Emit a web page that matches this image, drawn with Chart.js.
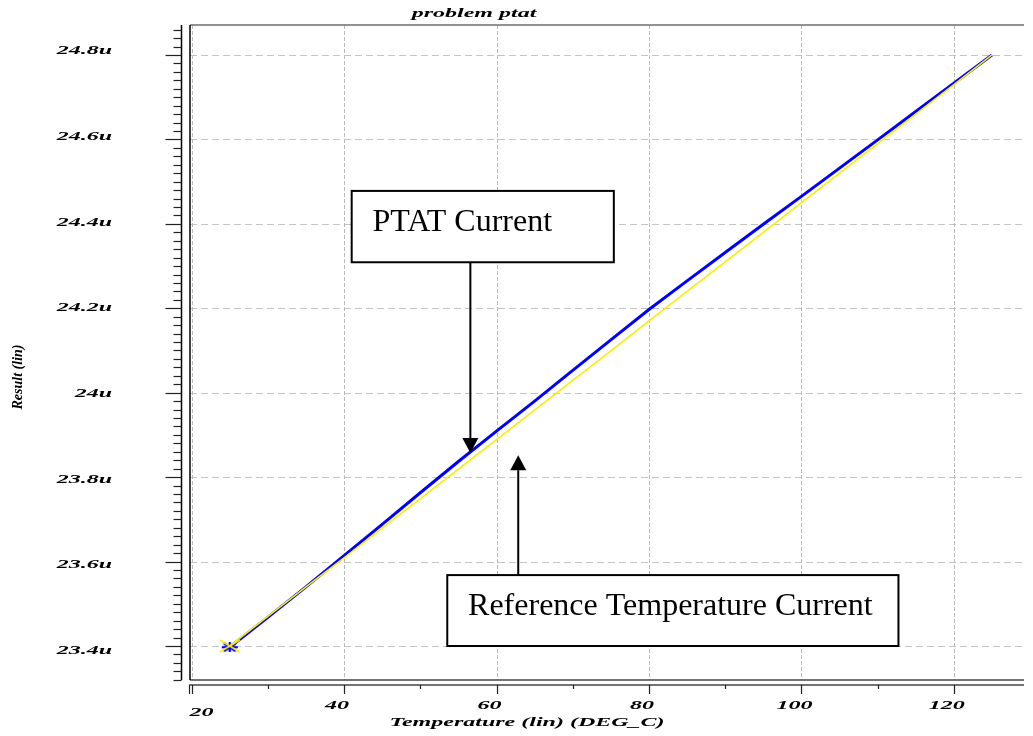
<!DOCTYPE html>
<html><head><meta charset="utf-8">
<script src="https://cdn.jsdelivr.net/npm/chart.js@4.4.1/dist/chart.umd.min.js"></script>
<style>html,body{margin:0;padding:0;background:#fff;overflow:hidden}#wrap{width:1033px;height:736px}</style>
</head><body><div id="wrap"><canvas id="c" width="1033" height="736"></canvas></div>
<script>
// ---- data (µA) ----
const temperatures = [25,30,35,40,45,50,55,60,65,70,75,80,85,90,95,100,105,110,115,120,125];
const ptatCurrent = [23.397,23.468,23.540,23.614,23.688,23.763,23.837,23.909,23.980,24.053,24.125,24.197,24.265,24.332,24.399,24.465,24.532,24.599,24.666,24.733,24.800];
const referenceCurrent = [23.400,23.470,23.540,23.609,23.679,23.749,23.819,23.889,23.959,24.029,24.099,24.170,24.240,24.310,24.380,24.450,24.520,24.590,24.660,24.730,24.800];
const xTickValues = [20,40,60,80,100,120];
const xTickLabels = ['20','40','60','80','100','120'];
const xMinorTickValues = [30,50,70,90,110];
const yTickValues = [23.4,23.6,23.8,24.0,24.2,24.4,24.6,24.8];
const yTickLabels = ['23.4u','23.6u','23.8u','24u','24.2u','24.4u','24.6u','24.8u'];
const xRange = [19.79,129.2];
const yRange = [23.3195,24.871];
const chartTitle = 'problem ptat';
const xAxisTitle = 'Temperature (lin) (DEG_C)';
const yAxisTitle = 'Result (lin)';
const annotationLabels = ['PTAT Current','Reference Temperature Current'];
const annotationBoxes = [[41.0,75.39,24.478,24.309],[53.54,112.73,23.568,23.400]];
const annotationTextAnchors = [[43.72,24.383],[56.27,23.473]];
const annotationArrows = [[56.57,24.309,23.857],[62.85,23.568,23.852]];

const SERIF = '"Liberation Serif","Times New Roman",serif';
function stretched(ctx, text, x, y, sx, align, font) {
  ctx.save(); ctx.font = font; ctx.translate(x, y); ctx.scale(sx, 1);
  ctx.textAlign = align; ctx.fillText(text, 0, 0); ctx.restore();
}

// marker glyphs (horizontally stretched like the original screenshot)
function makeMarker(w, h, color, lw, segs) {
  const cv = document.createElement('canvas'); cv.width = w; cv.height = h;
  const c = cv.getContext('2d'); c.strokeStyle = color; c.lineWidth = lw; c.lineCap = 'butt';
  segs.forEach(s => { c.beginPath(); c.moveTo(s[0], s[1]); c.lineTo(s[2], s[3]); c.stroke(); });
  return cv;
}
const starMarker = makeMarker(18, 10, '#0000ff', 2.2, [[1,5,17,5],[9,0,9,10],[3,1,15,9],[3,9,15,1]]);
const crossMarker = makeMarker(22, 14, '#f8f000', 1.6, [[1,1,21,13],[1,13,21,1]]);

const decorPlugin = {
  id: 'decor',
  beforeDraw(chart) {
    const ctx = chart.ctx; ctx.save(); ctx.fillStyle = '#fff';
    ctx.fillRect(0, 0, chart.width, chart.height); ctx.restore();
  },
  beforeDatasetsDraw(chart) {
    const {ctx, chartArea: a, scales: {x, y}} = chart;
    ctx.save();
    ctx.beginPath(); ctx.rect(a.left, a.top, a.right - a.left, a.bottom - a.top); ctx.clip();
    ctx.lineWidth = 1;
    ctx.strokeStyle = '#c4c4c4'; ctx.setLineDash([7, 4]);
    yTickValues.forEach(v => { const py = Math.round(y.getPixelForValue(v)) + 0.5;
      ctx.beginPath(); ctx.moveTo(a.left, py); ctx.lineTo(a.right, py); ctx.stroke(); });
    ctx.strokeStyle = '#b8b8b8'; ctx.setLineDash([4, 2]);
    xTickValues.forEach(v => { const px = Math.round(x.getPixelForValue(v)) + 0.5;
      ctx.beginPath(); ctx.moveTo(px, a.top); ctx.lineTo(px, a.bottom); ctx.stroke(); });
    ctx.restore();
  },
  afterDatasetsDraw(chart) {
    const {ctx, chartArea: a, scales: {x, y}} = chart;
    ctx.save();
    // annotations
    annotationBoxes.forEach((b, i) => {
      const l = x.getPixelForValue(b[0]), r = x.getPixelForValue(b[1]);
      const t = y.getPixelForValue(b[2]), bt = y.getPixelForValue(b[3]);
      ctx.fillStyle = '#fff'; ctx.fillRect(l, t, r - l, bt - t);
      ctx.strokeStyle = '#000'; ctx.lineWidth = 2; ctx.setLineDash([]);
      ctx.strokeRect(l, t, r - l, bt - t);
      ctx.fillStyle = '#000'; ctx.font = '32px ' + SERIF; ctx.textAlign = 'left'; ctx.textBaseline = 'alphabetic';
      ctx.fillText(annotationLabels[i], x.getPixelForValue(annotationTextAnchors[i][0]), y.getPixelForValue(annotationTextAnchors[i][1]));
    });
    annotationArrows.forEach(ar => {
      const px = x.getPixelForValue(ar[0]), from = y.getPixelForValue(ar[1]), tip = y.getPixelForValue(ar[2]);
      const dir = tip > from ? 1 : -1, hl = 15, hw = 8;
      ctx.strokeStyle = '#000'; ctx.lineWidth = 2;
      ctx.beginPath(); ctx.moveTo(px, from); ctx.lineTo(px, tip - dir * hl); ctx.stroke();
      ctx.fillStyle = '#000'; ctx.beginPath();
      ctx.moveTo(px, tip); ctx.lineTo(px - hw, tip - dir * hl); ctx.lineTo(px + hw, tip - dir * hl); ctx.closePath(); ctx.fill();
    });
    // plot frame
    ctx.lineWidth = 1.5;
    ctx.strokeStyle = '#6e6e6e';
    ctx.beginPath(); ctx.moveTo(a.left, a.top); ctx.lineTo(a.right, a.top); ctx.stroke();
    ctx.strokeStyle = '#444';
    ctx.beginPath(); ctx.moveTo(a.left, a.bottom); ctx.lineTo(a.right, a.bottom); ctx.stroke();
    ctx.strokeStyle = '#000';
    ctx.beginPath(); ctx.moveTo(a.left, a.top); ctx.lineTo(a.left, a.bottom); ctx.stroke();
    // y axis line + ticks
    const yAxisX = a.left - 8.5;
    ctx.beginPath(); ctx.moveTo(yAxisX, a.top); ctx.lineTo(yAxisX, a.bottom); ctx.stroke();
    ctx.lineWidth = 1.2; ctx.strokeStyle = '#222';
    for (let k = 0; ; k++) {
      const v = 23.32 + k * 0.02; if (v > yRange[1]) break;
      const py = Math.round(y.getPixelForValue(v)) + 0.5;
      const major = yTickValues.some(t => Math.abs(t - v) < 1e-6);
      ctx.beginPath(); ctx.moveTo(yAxisX - (major ? 16 : 8), py); ctx.lineTo(yAxisX, py); ctx.stroke();
    }
    // x axis line + ticks
    const xAxisY = a.bottom + 5;
    ctx.lineWidth = 1.5; ctx.strokeStyle = '#444';
    ctx.beginPath(); ctx.moveTo(a.left - 1, xAxisY); ctx.lineTo(a.right, xAxisY); ctx.stroke();
    ctx.lineWidth = 1.2; ctx.strokeStyle = '#222';
    xTickValues.forEach(v => { const px = Math.round(x.getPixelForValue(v)) + 0.5;
      ctx.beginPath(); ctx.moveTo(px, xAxisY); ctx.lineTo(px, xAxisY + 9); ctx.stroke(); });
    ctx.beginPath(); ctx.moveTo(a.left - 0.5, xAxisY); ctx.lineTo(a.left - 0.5, xAxisY + 9); ctx.stroke();
    xMinorTickValues.forEach(v => { const px = Math.round(x.getPixelForValue(v)) + 0.5;
      ctx.beginPath(); ctx.moveTo(px, xAxisY); ctx.lineTo(px, xAxisY + 4); ctx.stroke(); });
    // labels
    ctx.fillStyle = '#000'; ctx.textBaseline = 'middle';
    const lf = 'bold italic 12px ' + SERIF;
    yTickValues.forEach((v, i) => {
      const py = y.getPixelForValue(v);
      const off = -4 + (24.8 - v) / 1.4 * 9;
      stretched(ctx, yTickLabels[i], 112, py + off, 2, 'right', lf);
    });
    xTickValues.forEach((v, i) => {
      const px = x.getPixelForValue(v);
      if (i === 0) stretched(ctx, xTickLabels[i], px + 10, a.bottom + 32.5, 2, 'center', lf);
      else stretched(ctx, xTickLabels[i], px - 7, a.bottom + 26, 2, 'center', lf);
    });
    stretched(ctx, xAxisTitle, 527, a.bottom + 43, 2, 'center', lf);
    stretched(ctx, chartTitle, 474, 14, 2, 'center', lf);
    ctx.save(); ctx.translate(18, 377); ctx.rotate(-Math.PI / 2);
    ctx.font = 'bold italic 14px ' + SERIF; ctx.textAlign = 'center'; ctx.fillText(yAxisTitle, 0, 0);
    ctx.restore();
    ctx.restore();
  }
};

new Chart(document.getElementById('c'), {
  type: 'scatter',
  data: {
    datasets: [
      { label: 'PTAT Current', order: 1, data: temperatures.map((t, i) => ({x: t, y: ptatCurrent[i]})),
        showLine: true, borderColor: '#0000ff', borderWidth: 3, tension: 0,
        pointStyle: starMarker, pointRadius: c => c.dataIndex === 0 ? 6 : 0 },
      { label: 'Reference Temperature Current', order: 0, data: temperatures.map((t, i) => ({x: t, y: referenceCurrent[i]})),
        showLine: true, borderColor: '#f8f000', borderWidth: 1.6, tension: 0,
        pointStyle: crossMarker, pointRadius: c => c.dataIndex === 0 ? 7 : 0 }
    ]
  },
  options: {
    responsive: false, animation: false, devicePixelRatio: 1,
    layout: { padding: { left: 190, top: 25, right: 0, bottom: 56 } },
    scales: {
      x: { type: 'linear', display: false, min: xRange[0], max: xRange[1] },
      y: { type: 'linear', display: false, min: yRange[0], max: yRange[1] }
    },
    plugins: { legend: { display: false }, tooltip: { enabled: false }, title: { display: false } }
  },
  plugins: [decorPlugin]
});
</script></body></html>
